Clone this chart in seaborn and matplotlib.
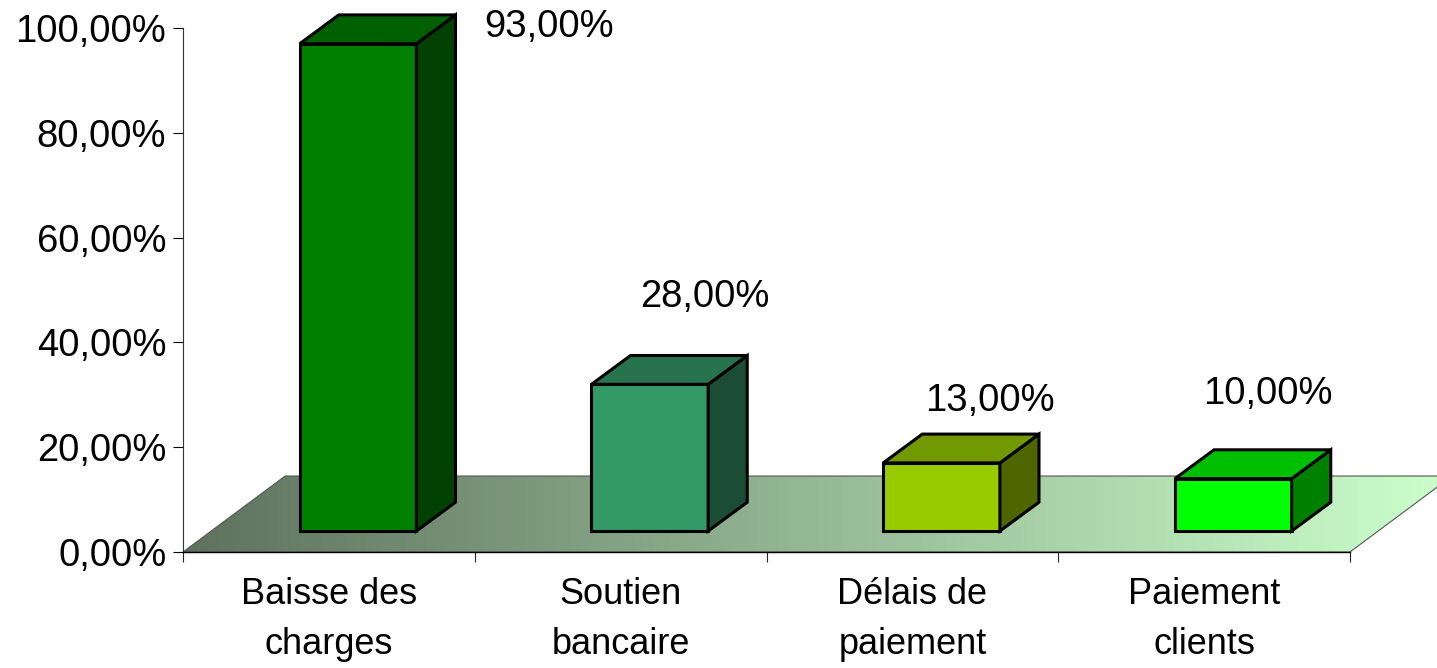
import numpy as np
import pandas as pd
import seaborn as sns
import matplotlib.pyplot as plt
from matplotlib.patches import Polygon
from matplotlib.colors import to_rgb

# data
categories = ['Baisse des\ncharges', 'Soutien\nbancaire', 'Délais de\npaiement', 'Paiement\nclients']
values = [93, 28, 13, 10]
value_labels = ['93,00%', '28,00%', '13,00%', '10,00%']
front_colors = ['#008000', '#339966', '#99CC00', '#00FF00']
y_ticks = [0, 20, 40, 60, 80, 100]
y_tick_labels = ['0,00%', '20,00%', '40,00%', '60,00%', '80,00%', '100,00%']

# fake 3d layout (category units, percent units)
floor_dx, floor_dy = 0.35, 14.5
bar_shift_x, bar_shift_y = 0.10, 4.0
bar_dx, bar_dy = 0.134, 5.5
label_nudge = [(0.754, 7.2), (0.289, 20.7), (0.266, 15.8), (0.219, 20.2)]
fs = 27.5

sns.set_style('ticks')
plt.rcParams['font.family'] = ['Liberation Sans', 'DejaVu Sans']
plt.rcParams['text.color'] = 'black'

fig = plt.figure(figsize=(14.37, 6.68), dpi=100)
ax = fig.add_axes([183 / 1437, 116 / 668, 1167 / 1437, 524 / 668])

df = pd.DataFrame({'cat': categories, 'val': values})
sns.barplot(data=df, x='cat', y='val', hue='cat', palette=front_colors, width=0.4,
            saturation=1, edgecolor='black', linewidth=2.2, legend=False, ax=ax)
bars = sorted(ax.patches[:], key=lambda p: p.get_x())

# floor with horizontal gradient
floor_pts = [(-0.5, 0), (3.5, 0), (3.5 + floor_dx, floor_dy), (-0.5 + floor_dx, floor_dy)]
floor = Polygon(floor_pts, closed=True, facecolor='none', edgecolor='#555555',
                linewidth=0.8, zorder=0.6, clip_on=False)
ax.add_patch(floor)
c0 = np.array([94, 114, 94]) / 255
c1 = np.array([204, 255, 204]) / 255
t = np.linspace(0, 1, 256)
grad = (c0[None, :] * (1 - t[:, None]) + c1[None, :] * t[:, None])[None, :, :]
im = ax.imshow(grad, extent=[-0.5, 3.5 + floor_dx, 0, floor_dy], aspect='auto',
               origin='lower', zorder=0.5)
im.set_clip_box(fig.bbox)
im.set_clip_path(floor)

# shift bars back into the floor and add top / side faces
for p, col in zip(bars, front_colors):
    x0 = p.get_x() + bar_shift_x
    y0 = bar_shift_y
    w = p.get_width()
    h = p.get_height()
    p.set_x(x0)
    p.set_y(y0)
    p.set_zorder(2)
    rgb = np.array(to_rgb(col))
    top = Polygon([(x0, y0 + h), (x0 + w, y0 + h), (x0 + w + bar_dx, y0 + h + bar_dy),
                   (x0 + bar_dx, y0 + h + bar_dy)], closed=True, facecolor=rgb * 0.75,
                  edgecolor='black', linewidth=2.2, joinstyle='miter', zorder=2, clip_on=False)
    side = Polygon([(x0 + w, y0), (x0 + w + bar_dx, y0 + bar_dy),
                    (x0 + w + bar_dx, y0 + h + bar_dy), (x0 + w, y0 + h)], closed=True,
                   facecolor=rgb * 0.5, edgecolor='black', linewidth=2.2, joinstyle='miter',
                   zorder=2, clip_on=False)
    ax.add_patch(side)
    ax.add_patch(top)

for i, (v, lab) in enumerate(zip(values, value_labels)):
    nx, ny = label_nudge[i]
    ax.text(i + nx, v + ny, lab, ha='center', va='center', fontsize=fs, color='black')

ax.set_xlim(-0.5, 3.5)
ax.set_ylim(0, 100)
ax.set_yticks(y_ticks, y_tick_labels)
ax.set_xticks(range(len(categories)), categories)
ax.set_xticks([-0.5, 0.5, 1.5, 2.5, 3.5], minor=True)
ax.tick_params(axis='y', length=7, width=0.8, pad=5, labelsize=fs, colors='black')
ax.tick_params(axis='x', which='major', length=0, pad=18, labelsize=26, colors='black')
ax.tick_params(axis='x', which='minor', length=7, width=0.8, bottom=True)
for lab in ax.get_xticklabels():
    lab.set_linespacing(1.55)
ax.set_xlabel('')
ax.set_ylabel('')
for s in ['top', 'right']:
    ax.spines[s].set_visible(False)
ax.spines['left'].set_linewidth(0.8)
ax.spines['left'].set_color('#333333')
ax.spines['bottom'].set_linewidth(1.0)
ax.spines['bottom'].set_color('black')
ax.spines['bottom'].set_zorder(3)

fig.savefig('out.png', dpi=100)
